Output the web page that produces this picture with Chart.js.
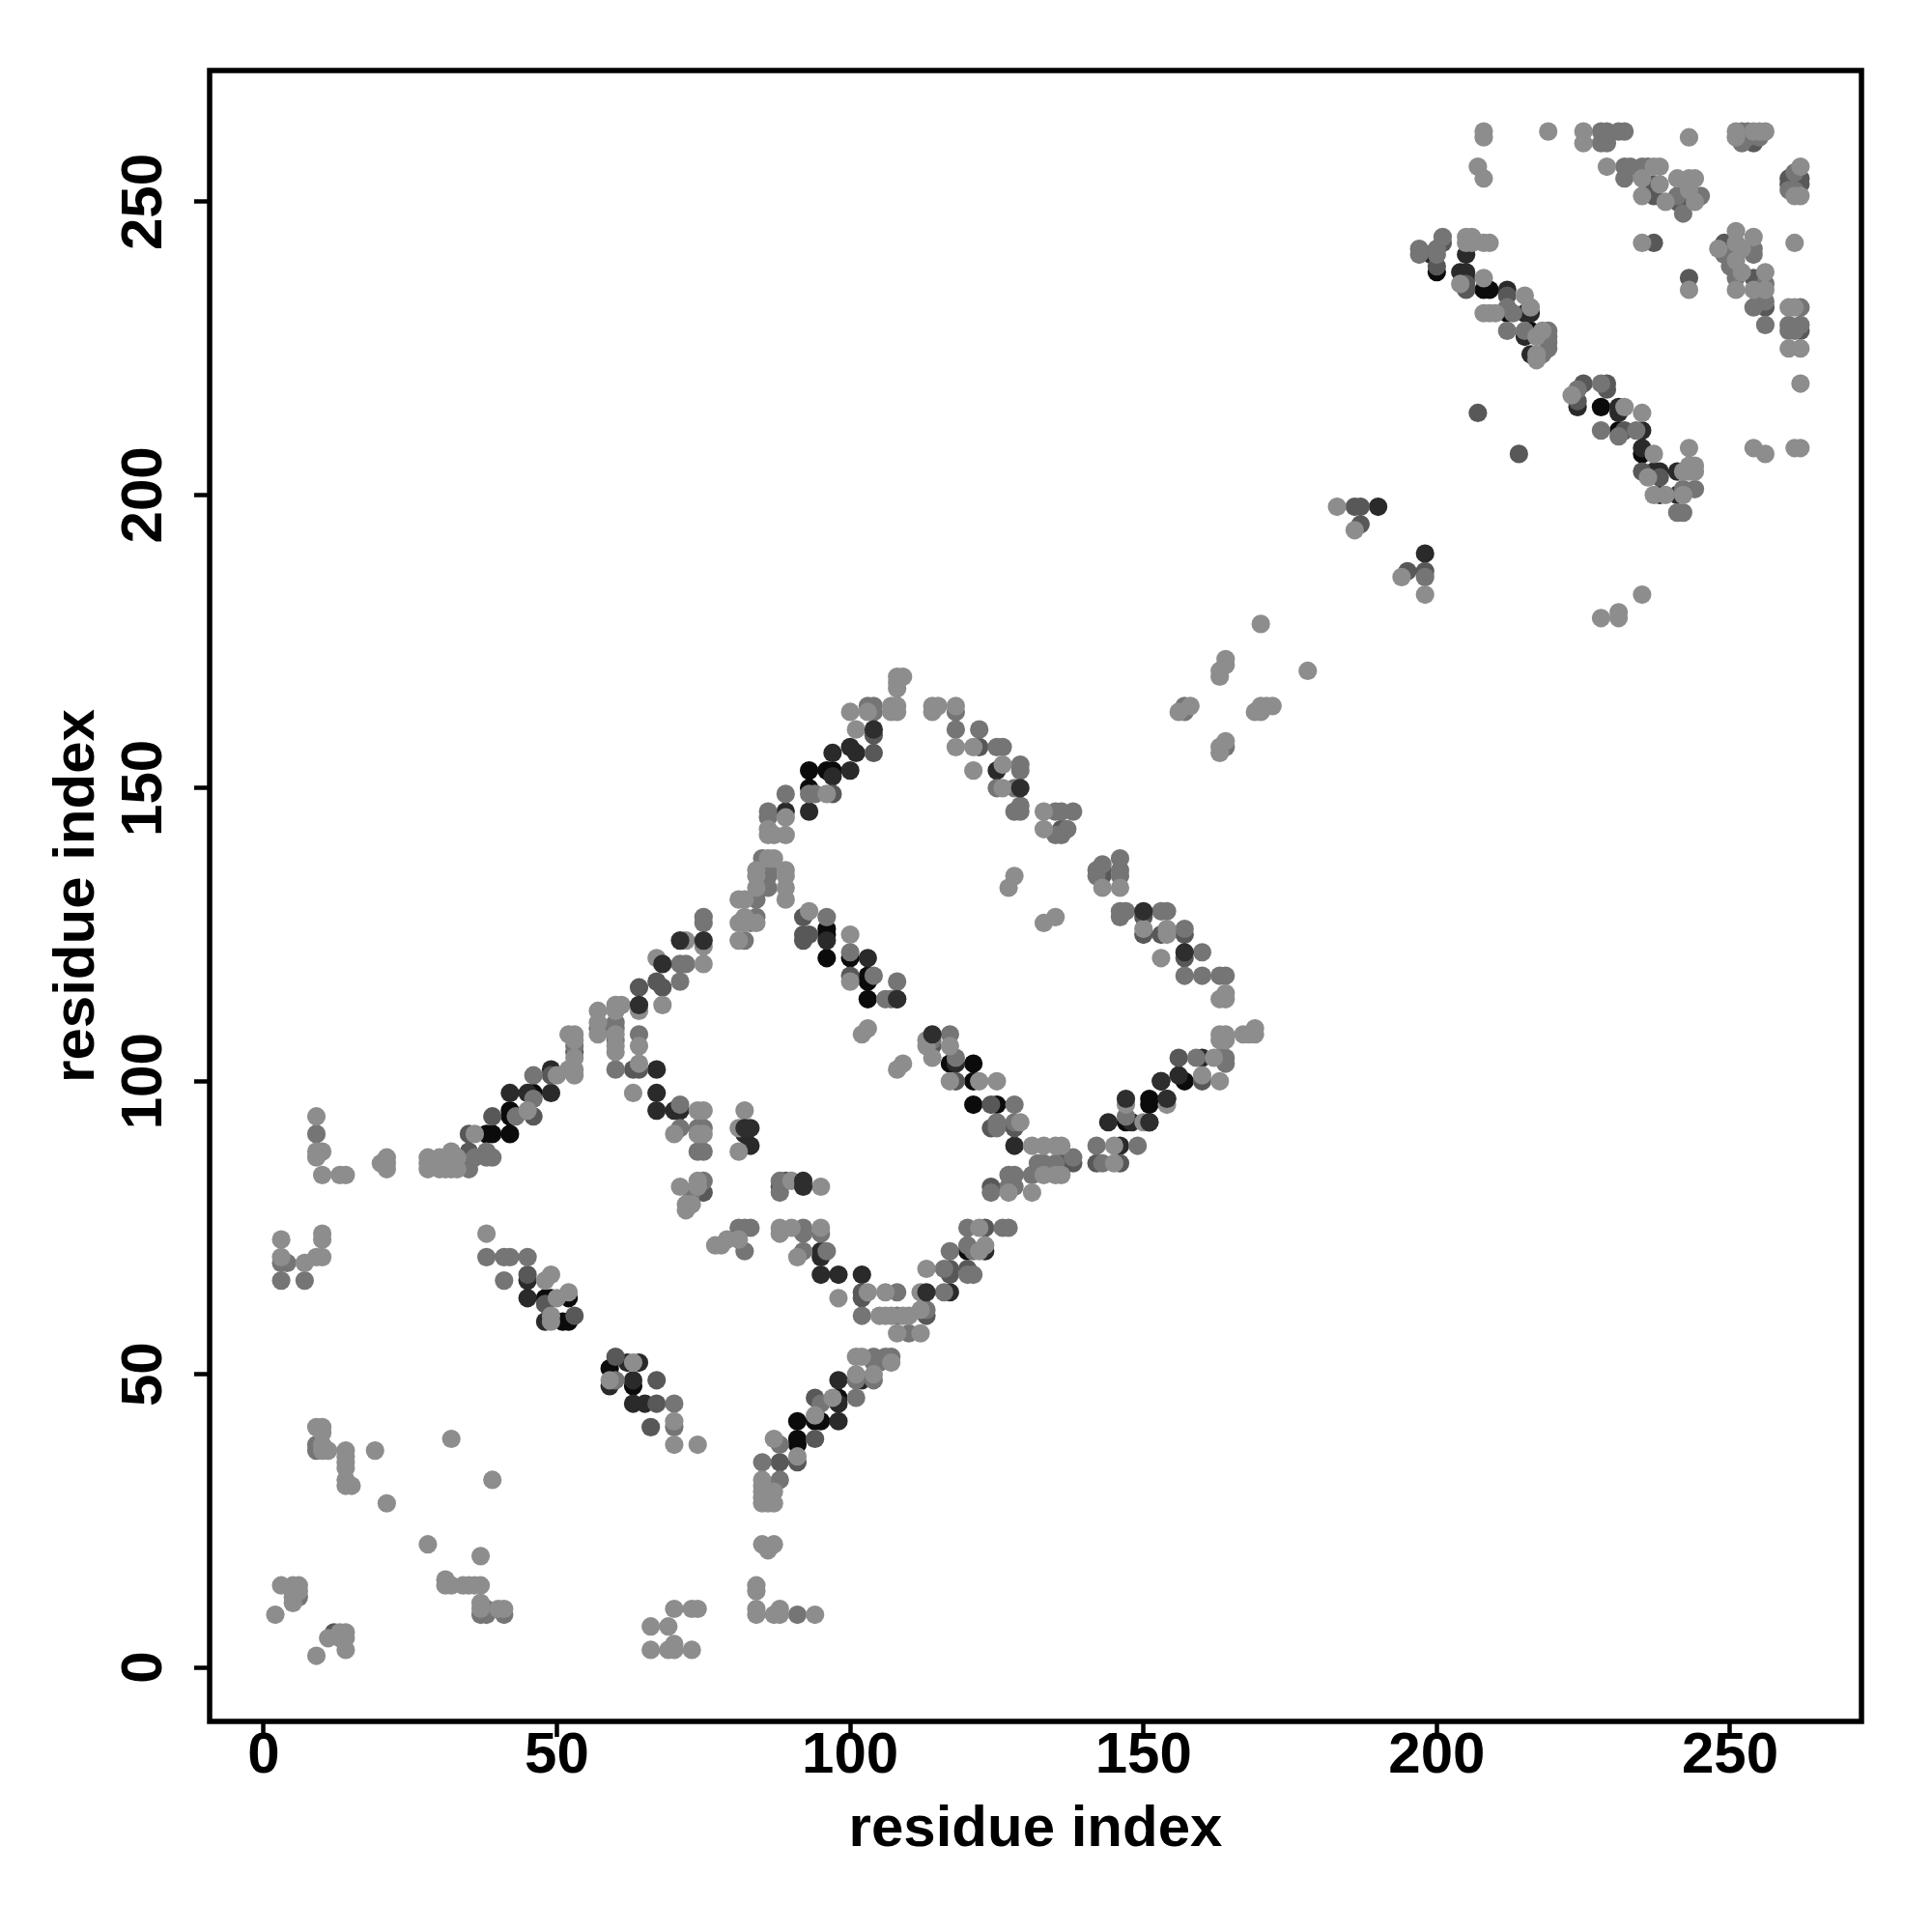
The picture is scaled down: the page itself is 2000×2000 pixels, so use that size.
<!DOCTYPE html>
<html lang="en">
<head>
<meta charset="UTF-8">
<title>Residue contact map</title>
<script src="https://cdn.jsdelivr.net/npm/chart.js"></script>
<style>
  body { margin: 0; background: white; }
  canvas { display: block; }
</style>
</head>
<body>
<canvas id="contactChart" width="2000" height="2000"></canvas>
<script>
// contacts as [residue i, residue j], grouped by how dark the dot is in the picture
const tickValues = [0, 50, 100, 150, 200, 250];
const axisLabel = "residue index";

const blackContacts = [[38,91],[39,91],[42,91],[42,94],[42,95],[46,98],[48,63],[49,63],[52,63],[51,59],[52,59],[59,51],[63,48],[91,38],[91,39],[91,42],[94,42],[95,42],[98,46],[96,125],[96,126],[96,121],[93,153],[96,153],[97,153],[93,150],[103,117],[103,118],[103,114],[117,103],[121,103],[121,100],[121,96],[125,96],[153,100],[157,100],[151,96],[151,97],[147,93],[151,93],[120,71],[212,231],[216,228],[228,215],[231,211],[235,207],[100,121],[208,235],[209,235],[200,238]];
const darkContacts = [[42,98],[45,98],[49,98],[49,102],[67,102],[67,98],[67,95],[70,95],[71,95],[45,66],[45,63],[48,59],[63,45],[59,48],[63,49],[65,45],[64,52],[95,67],[98,67],[102,67],[95,70],[95,71],[98,45],[98,42],[98,49],[102,49],[117,64],[123,71],[82,91],[83,89],[103,121],[118,103],[128,89],[144,93],[148,93],[146,89],[156,101],[154,97],[125,153],[97,152],[100,157],[101,156],[93,146],[89,146],[100,153],[96,124],[190,198],[198,190],[215,231],[216,231],[215,227],[216,224],[224,215],[231,214],[231,215],[235,211],[237,204],[238,204],[241,204],[238,200],[241,200],[235,208],[205,241],[199,241],[204,238],[205,237],[205,238],[62,52],[160,104],[212,235],[97,156]];
const darkerGreyContacts = [[12,6],[35,87],[35,88],[35,91],[39,94],[46,94],[49,101],[63,102],[64,102],[45,67],[48,62],[53,60],[102,63],[102,64],[89,83],[88,82],[88,35],[91,35],[94,39],[94,46],[67,45],[66,41],[67,49],[117,67],[117,68],[120,68],[53,105],[64,116],[68,116],[67,117],[92,128],[92,125],[93,125],[92,124],[97,149],[104,156],[104,159],[100,118],[118,100],[114,106],[124,96],[124,92],[128,92],[142,86],[146,86],[156,104],[157,121],[160,100],[136,86],[138,86],[143,135],[143,136],[150,128],[150,125],[153,125],[157,125],[136,143],[122,157],[187,195],[195,187],[187,198],[186,198],[198,187],[214,207],[207,214],[200,239],[201,243],[205,235],[205,236],[212,234],[224,216],[225,219],[232,211],[235,204],[238,203],[237,243],[243,237],[249,243],[250,242],[254,260],[260,253],[260,254],[262,253],[262,254],[243,250],[241,250],[237,252],[237,253],[237,251],[256,232],[262,228],[254,237],[229,218],[229,219],[123,75],[124,82],[113,60],[60,53],[75,81],[74,81]];
const midContacts = [[6,12],[38,10],[37,9],[38,9],[41,9],[9,38],[9,37],[3,69],[4,69],[9,91],[3,66],[7,66],[38,70],[41,70],[42,70],[45,70],[41,66],[91,9],[46,101],[46,97],[35,85],[38,88],[39,87],[36,87],[38,87],[43,94],[60,102],[60,49],[70,45],[70,41],[71,96],[71,92],[74,92],[75,92],[74,88],[75,88],[75,83],[73,81],[57,109],[60,109],[60,107],[60,110],[53,106],[64,108],[71,117],[71,120],[72,120],[75,127],[75,128],[82,124],[84,131],[83,127],[84,128],[88,81],[85,35],[88,38],[87,31],[88,32],[95,45],[101,46],[101,49],[104,49],[104,53],[104,52],[105,52],[106,53],[107,53],[110,57],[102,60],[108,64],[108,60],[113,61],[116,64],[116,68],[117,71],[120,72],[121,71],[121,67],[120,67],[120,75],[126,75],[127,75],[124,81],[127,84],[128,84],[131,84],[127,82],[128,82],[96,71],[92,71],[92,75],[92,74],[95,74],[83,75],[82,75],[81,75],[81,74],[82,71],[89,149],[86,146],[86,145],[93,149],[94,149],[96,128],[100,122],[104,118],[108,117],[107,114],[108,114],[106,114],[114,107],[117,108],[118,104],[125,92],[125,93],[128,93],[128,96],[142,89],[143,86],[149,89],[147,94],[157,118],[160,118],[160,122],[163,118],[164,118],[159,104],[163,104],[164,104],[164,103],[129,147],[129,146],[128,146],[129,153],[129,154],[125,150],[128,150],[125,157],[126,157],[118,160],[118,163],[122,160],[104,163],[104,164],[103,164],[86,136],[86,135],[86,133],[85,138],[142,135],[142,136],[146,136],[146,135],[146,138],[143,137],[146,128],[146,129],[147,129],[153,129],[154,129],[157,126],[135,146],[136,146],[138,146],[136,142],[137,143],[135,142],[157,164],[157,163],[164,157],[198,186],[200,242],[200,241],[197,241],[197,242],[201,244],[212,228],[212,232],[213,231],[215,228],[218,224],[219,225],[219,226],[219,227],[219,228],[224,218],[228,219],[228,211],[234,211],[241,197],[242,197],[242,201],[244,201],[228,262],[229,262],[228,260],[229,260],[231,262],[232,262],[232,256],[233,256],[232,254],[236,256],[235,256],[241,251],[245,251],[242,248],[252,262],[253,262],[255,261],[253,261],[252,260],[261,252],[260,252],[261,255],[249,241],[250,241],[250,239],[251,237],[254,241],[254,242],[256,236],[256,233],[254,232],[256,229],[262,232],[260,229],[260,228],[261,228],[262,229],[133,86],[135,86],[132,86],[138,87],[88,83],[231,210]];
const lightContacts = [[9,2],[14,3],[11,5],[13,5],[14,5],[13,6],[14,6],[2,9],[5,11],[5,12],[5,13],[6,13],[3,14],[5,14],[6,14],[28,21],[37,19],[31,15],[31,14],[32,14],[34,14],[35,14],[36,14],[37,14],[37,11],[37,10],[40,10],[41,10],[66,7],[69,7],[70,10],[70,4],[66,3],[69,3],[70,3],[73,3],[73,10],[74,10],[32,39],[39,32],[21,28],[19,37],[14,37],[14,36],[14,35],[14,34],[14,32],[14,31],[15,31],[9,41],[10,41],[10,40],[10,38],[10,37],[11,37],[9,94],[9,88],[10,88],[9,87],[10,84],[13,84],[14,84],[21,87],[20,86],[21,86],[21,85],[28,87],[28,86],[28,85],[29,86],[30,87],[30,86],[30,85],[31,85],[32,88],[32,87],[32,85],[33,87],[33,85],[3,73],[3,70],[7,69],[9,70],[10,70],[10,74],[10,73],[38,74],[49,67],[48,66],[52,64],[50,63],[49,59],[49,60],[50,101],[52,102],[53,102],[53,101],[63,98],[64,103],[64,106],[64,112],[68,113],[36,91],[45,95],[74,95],[75,95],[70,91],[74,91],[75,91],[71,82],[74,82],[74,83],[72,79],[73,79],[72,78],[82,95],[81,92],[81,88],[84,9],[84,10],[84,13],[84,14],[87,9],[88,9],[88,10],[94,9],[85,21],[87,21],[86,20],[85,28],[86,28],[87,28],[85,29],[85,30],[85,31],[85,32],[87,30],[91,36],[87,39],[94,43],[97,46],[101,50],[101,53],[102,53],[104,50],[107,52],[108,57],[112,57],[105,60],[106,60],[107,60],[109,60],[110,60],[112,61],[98,63],[103,64],[106,64],[112,64],[113,68],[91,70],[88,75],[88,74],[90,75],[95,75],[79,73],[78,72],[77,72],[81,73],[95,82],[90,83],[81,127],[81,124],[81,131],[82,131],[82,127],[82,128],[84,127],[127,81],[131,81],[53,104],[52,108],[53,108],[53,107],[57,112],[57,110],[57,108],[60,113],[61,113],[60,112],[60,108],[60,106],[60,105],[67,121],[75,120],[72,124],[75,123],[93,129],[89,131],[100,125],[100,117],[102,108],[103,109],[108,102],[109,103],[113,107],[113,106],[114,104],[117,100],[117,106],[122,100],[125,100],[129,93],[122,75],[123,72],[122,71],[133,89],[135,89],[131,89],[136,89],[133,84],[135,84],[136,84],[133,143],[133,146],[145,89],[145,86],[150,93],[153,121],[154,96],[160,101],[163,100],[147,96],[162,104],[163,114],[164,114],[164,115],[163,107],[164,107],[163,108],[164,108],[167,108],[168,108],[169,108],[169,109],[100,163],[101,160],[103,163],[107,163],[107,164],[108,163],[108,164],[108,167],[108,168],[108,169],[109,169],[114,163],[114,164],[115,164],[118,164],[118,157],[121,157],[121,153],[126,154],[126,150],[84,133],[84,135],[84,136],[86,138],[87,138],[89,136],[89,135],[89,133],[86,143],[86,142],[87,142],[89,142],[89,145],[96,149],[127,133],[128,135],[133,127],[135,128],[143,133],[146,133],[150,126],[154,126],[154,125],[163,169],[163,170],[164,171],[164,172],[156,163],[158,164],[170,178],[178,170],[169,163],[170,163],[170,164],[171,164],[172,164],[163,156],[163,157],[164,158],[183,198],[186,194],[194,186],[198,183],[204,236],[208,237],[208,231],[209,231],[210,231],[205,243],[206,243],[205,244],[206,244],[208,243],[209,243],[208,262],[208,261],[207,256],[208,254],[215,234],[216,232],[217,227],[218,228],[217,224],[217,223],[223,217],[232,215],[235,214],[237,207],[243,208],[236,203],[242,204],[243,204],[244,204],[244,205],[243,205],[237,200],[239,200],[242,200],[235,183],[228,179],[231,179],[231,180],[219,262],[225,262],[225,260],[229,256],[237,256],[238,256],[235,254],[235,251],[238,253],[239,250],[241,254],[243,254],[244,254],[243,261],[235,243],[243,235],[261,243],[251,262],[251,261],[254,262],[255,262],[256,262],[262,256],[262,251],[261,251],[251,245],[248,242],[251,243],[251,240],[252,242],[252,238],[251,235],[254,244],[254,235],[256,238],[256,235],[260,232],[261,232],[260,225],[262,225],[254,208],[256,207],[261,208],[262,208],[262,219],[243,252],[244,250],[59,49],[63,52],[70,38],[70,42],[74,38]];
// dark dots that sit on top of their lighter neighbours
const darkOnTopContacts = [[92,82],[92,83],[113,64],[64,113],[68,120],[71,124],[114,108],[108,114],[129,150],[157,122],[150,129],[104,160],[82,92],[83,92],[147,97],[154,97],[151,93],[153,100],[75,124]];

const gridColor = "#000000";
const fontFamily = "'Liberation Sans', Arial, sans-serif";

function toPoints(pairs) {
    return pairs.map(p => ({ x: p[0], y: p[1] }));
}

function dotSet(pairs, color) {
    return {
        data: toPoints(pairs),
        backgroundColor: color,
        borderWidth: 0,
        pointRadius: 9.6,
        pointHoverRadius: 9.6
    };
}

const frame = {
    id: "frame",
    afterDraw(chart) {
        const a = chart.chartArea;
        const ctx = chart.ctx;
        ctx.save();
        ctx.strokeStyle = "#000";
        ctx.lineWidth = 5.5;
        ctx.strokeRect(a.left, a.top, a.width, a.height);
        ctx.restore();
    }
};

// the left axis title goes by padding.top, the bottom one by padding.bottom
function axis(fixSize, labelPadding, titlePadding, rotation) {
    return {
        type: "linear",
        min: -9.2,
        max: 272.4,
        afterBuildTicks(scale) {
            scale.ticks = tickValues.map(v => ({ value: v }));
        },
        afterFit: fixSize,
        grid: { drawOnChartArea: false, color: gridColor, tickLength: 16, tickWidth: 4.5, tickColor: gridColor },
        border: { display: false },
        ticks: {
            color: "#000",
            font: { family: fontFamily, size: 60, weight: "bold" },
            padding: labelPadding,
            minRotation: rotation,
            maxRotation: rotation,
            crossAlign: "center",
            autoSkip: false
        },
        title: {
            display: true,
            text: axisLabel,
            color: "#000",
            font: { family: fontFamily, size: 60, weight: "bold" },
            padding: { top: titlePadding, bottom: titlePadding }
        }
    };
}

new Chart(document.getElementById("contactChart"), {
    type: "scatter",
    data: {
        datasets: [
            dotSet(blackContacts, "#0b0b0b"),
            dotSet(darkContacts, "#2a2a2a"),
            dotSet(darkerGreyContacts, "#585858"),
            dotSet(midContacts, "#757575"),
            dotSet(lightContacts, "#8d8d8d"),
            dotSet(darkOnTopContacts, "#2e2e2e")
        ].map((d, i) => Object.assign(d, { order: 10 - i }))
    },
    options: {
        responsive: false,
        animation: false,
        layout: { padding: { left: 0, top: 73, right: 73, bottom: 0 } },
        plugins: { legend: { display: false }, tooltip: { enabled: false } },
        scales: {
            x: axis(s => { s.height = 218; }, 20, 70, 0),
            y: axis(s => { s.width = 217; }, 0, 44, 90)
        }
    },
    plugins: [frame]
});
</script>
</body>
</html>
